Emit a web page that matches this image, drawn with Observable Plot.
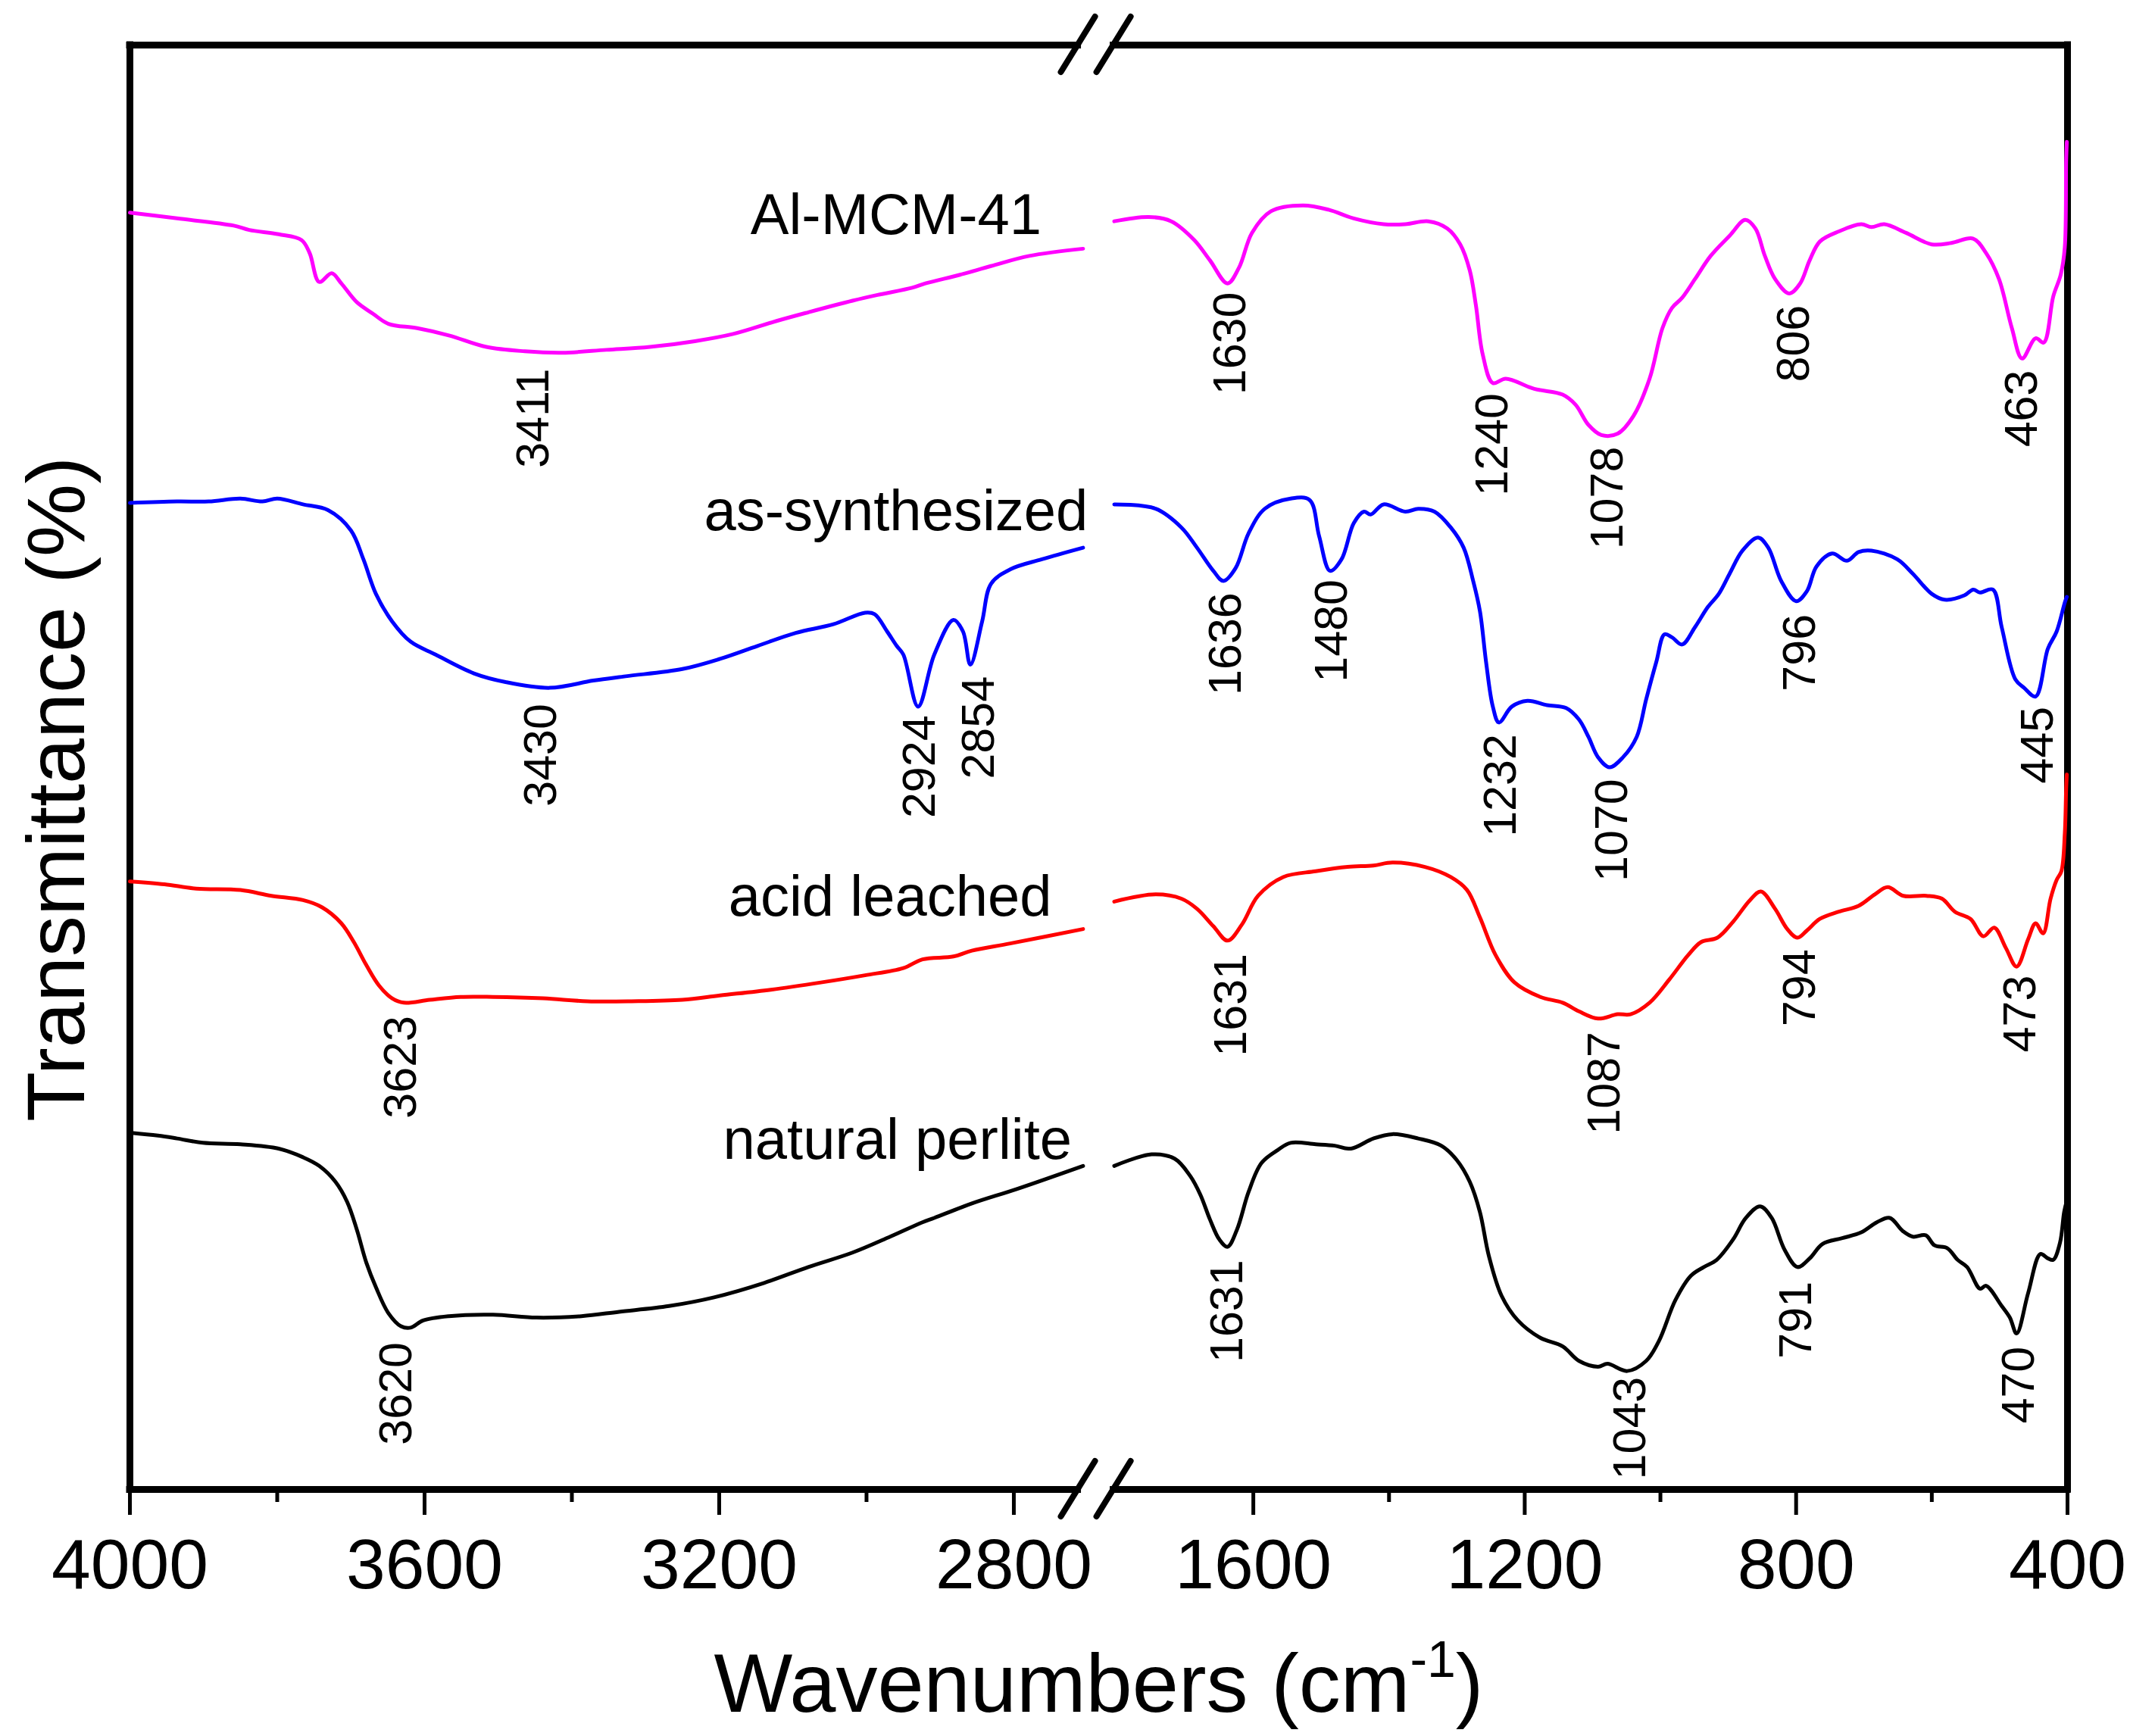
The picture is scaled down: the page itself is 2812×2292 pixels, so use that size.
<!DOCTYPE html>
<html><head><meta charset="utf-8">
<script src="https://cdn.jsdelivr.net/npm/d3@7"></script>
<script src="https://cdn.jsdelivr.net/npm/@observablehq/plot@0.6"></script>
<style>html,body{margin:0;padding:0;background:#fff}</style>
</head><body><div id="chart"></div>
<script>
// ---- data (wavenumber cm-1, relative transmittance, arbitrary 0-100 units) ----
const alLeft = [[4000,88.4],[3936,88.0],[3859,87.5],[3838,87.2],[3798,86.9],[3767,86.5],[3756,85.6],[3743,83.6],[3726,84.2],[3713,83.5],[3692,82.2],[3670,81.4],[3649,80.7],[3610,80.4],[3567,79.9],[3516,79.1],[3464,78.8],[3413,78.7],[3353,78.9],[3294,79.1],[3233,79.5],[3181,80.0],[3122,80.9],[3079,81.5],[3019,82.3],[2985,82.7],[2938,83.2],[2920,83.5],[2873,84.1],[2831,84.7],[2779,85.4],[2706,85.9]];
const alRight = [[1805,87.8],[1754,88.1],[1721,87.8],[1687,86.5],[1664,85.1],[1638,83.5],[1621,84.6],[1602,87.0],[1574,88.5],[1527,88.9],[1489,88.6],[1452,88.0],[1408,87.6],[1376,87.6],[1342,87.8],[1314,87.3],[1295,86.2],[1281,84.4],[1272,82.0],[1262,78.6],[1247,76.6],[1228,76.9],[1186,76.2],[1144,75.8],[1125,75.1],[1106,73.7],[1087,73.0],[1063,73.1],[1040,74.3],[1016,76.9],[997,80.4],[983,81.8],[968,82.5],[949,83.8],[926,85.4],[898,86.8],[875,87.9],[860,87.3],[846,85.4],[831,83.8],[810,82.8],[794,83.5],[780,85.1],[765,86.4],[737,87.1],[704,87.6],[689,87.4],[670,87.6],[638,87.0],[600,86.2],[571,86.3],[539,86.6],[520,85.6],[501,83.8],[482,80.4],[467,78.3],[447,79.7],[435,79.4],[421,82.6],[410,84.1],[404,86.0],[402,92.0],[401,93.3]];
const asLeft = [[4000,68.3],[3936,68.4],[3893,68.4],[3850,68.6],[3820,68.4],[3800,68.6],[3765,68.2],[3731,67.8],[3700,66.4],[3683,64.4],[3666,62.0],[3644,60.1],[3619,58.7],[3585,57.8],[3533,56.5],[3490,55.9],[3430,55.5],[3371,56.0],[3327,56.3],[3250,56.8],[3199,57.5],[3148,58.4],[3096,59.3],[3045,59.9],[3002,60.7],[2989,60.6],[2972,59.4],[2959,58.4],[2950,57.8],[2930,54.2],[2908,57.8],[2882,60.2],[2869,59.4],[2859,57.1],[2843,60.1],[2831,62.7],[2805,63.7],[2762,64.4],[2706,65.2]];
const asRight = [[1805,68.2],[1744,67.9],[1706,66.6],[1683,65.2],[1659,63.6],[1644,62.9],[1626,63.8],[1607,66.2],[1583,67.9],[1545,68.6],[1517,68.5],[1503,66.0],[1487,63.6],[1470,64.4],[1452,66.9],[1437,67.7],[1427,67.5],[1408,68.2],[1376,67.7],[1357,67.9],[1333,67.7],[1309,66.6],[1290,65.2],[1276,62.9],[1266,60.8],[1257,57.3],[1247,54.2],[1238,53.1],[1219,54.2],[1196,54.6],[1167,54.3],[1139,54.1],[1120,53.3],[1106,52.1],[1092,50.7],[1075,50.0],[1055,50.7],[1035,52.1],[1021,54.7],[1006,57.3],[994,59.2],[983,59.0],[968,58.5],[949,59.7],[930,61.1],[914,62.0],[898,63.4],[879,65.0],[856,65.9],[841,65.2],[822,62.9],[800,61.5],[784,62.2],[770,63.9],[747,64.8],[725,64.3],[708,64.9],[689,65.0],[651,64.4],[628,63.4],[600,62.0],[581,61.6],[552,61.9],[539,62.3],[529,62.1],[510,62.3],[497,59.7],[477,56.1],[464,55.5],[447,54.9],[429,58.2],[416,59.4],[404,61.4],[401,61.8]];
const acidLeft = [[4000,42.1],[3953,41.9],[3910,41.6],[3850,41.5],[3808,41.1],[3765,40.8],[3739,40.3],[3713,39.2],[3696,37.9],[3679,36.3],[3662,34.9],[3644,34.0],[3628,33.7],[3593,33.9],[3551,34.1],[3507,34.1],[3439,34.0],[3379,33.8],[3319,33.8],[3250,33.9],[3199,34.2],[3130,34.6],[3062,35.1],[3002,35.6],[2950,36.1],[2924,36.7],[2882,36.9],[2857,37.3],[2805,37.8],[2706,38.8]];
const acidRight = [[1805,40.7],[1744,41.2],[1706,40.9],[1683,40.2],[1659,39.0],[1638,38.0],[1617,39.1],[1593,41.1],[1556,42.4],[1508,42.8],[1461,43.1],[1423,43.2],[1395,43.4],[1347,43.1],[1309,42.4],[1285,41.5],[1266,39.6],[1243,37.0],[1215,35.1],[1177,34.1],[1144,33.7],[1120,33.1],[1092,32.6],[1063,32.9],[1044,32.9],[1016,33.7],[987,35.3],[959,37.0],[940,37.9],[916,38.2],[893,39.3],[868,40.8],[852,41.4],[831,40.2],[813,38.8],[798,38.2],[784,38.7],[765,39.5],[737,40.0],[708,40.4],[684,41.2],[665,41.7],[642,41.1],[608,41.1],[585,40.9],[566,40.0],[543,39.5],[524,38.3],[508,38.9],[491,37.5],[475,36.2],[458,38.1],[447,39.2],[436,38.5],[425,40.9],[416,42.2],[409,42.8],[404,45.4],[402,48.5],[401,49.5]];
const natLeft = [[4000,24.7],[3962,24.5],[3936,24.3],[3901,24.0],[3850,23.9],[3798,23.6],[3765,23.0],[3743,22.4],[3721,21.3],[3705,19.9],[3692,18.0],[3679,15.7],[3666,14.0],[3649,12.2],[3632,11.3],[3619,11.2],[3602,11.7],[3567,12.0],[3507,12.1],[3448,11.9],[3387,12.0],[3336,12.3],[3268,12.7],[3207,13.3],[3139,14.3],[3079,15.4],[3019,16.4],[2968,17.5],[2924,18.5],[2908,18.8],[2857,19.8],[2796,20.8],[2706,22.4]];
const natRight = [[1805,22.4],[1750,23.2],[1716,22.9],[1693,21.7],[1678,20.4],[1664,18.7],[1650,17.3],[1638,16.8],[1624,18.0],[1607,20.6],[1588,22.6],[1564,23.5],[1545,24.0],[1508,23.9],[1480,23.8],[1456,23.6],[1423,24.3],[1395,24.6],[1357,24.3],[1323,23.8],[1300,22.8],[1281,21.3],[1266,19.2],[1253,16.2],[1234,13.4],[1210,11.7],[1177,10.5],[1144,9.9],[1120,8.9],[1092,8.5],[1078,8.7],[1049,8.2],[1021,8.9],[1002,10.3],[978,13.1],[955,14.8],[936,15.4],[917,15.9],[893,17.3],[874,18.8],[853,19.6],[836,18.8],[817,16.6],[798,15.4],[780,16.0],[761,17.0],[732,17.4],[704,17.8],[681,18.5],[662,18.8],[643,17.9],[628,17.5],[609,17.6],[596,16.9],[577,16.7],[562,15.9],[548,15.4],[529,13.9],[520,14.1],[497,12.7],[485,11.9],[475,10.8],[458,13.6],[440,16.3],[429,16.0],[421,15.9],[411,17.1],[405,19.2],[401,20.0]];

const seriesNames = ["Al-MCM-41", "as-synthesized", "acid leached", "natural perlite"];
const seriesColors = ["#ff00ff", "#0000ff", "#ff0000", "#000000"];
const seriesLabelW = [2960, 2960, 2968, 2958];
const seriesLabelT = [86.9, 66.4, 39.7, 22.9];

const peakText = ["3411","1630","1240","1078","806","463",
                  "3430","2924","2854","1636","1480","1232","1070","796","445",
                  "3623","1631","1087","794","473",
                  "3620","1631","1043","791","470"];
const peakW = [3452,1634,1247,1078,803,467,
               3442,2927,2847,1640,1484,1235,1071,794,444,
               3632,1633,1082,794,469,
               3638,1638,1044,800,472];
const peakT = [77.6,82.9,75.9,72.2,82.0,77.5,
               54.4,53.6,56.3,62.1,63.0,52.3,49.2,60.6,54.2,
               32.8,37.1,31.7,37.4,35.6,
               10.2,15.9,7.8,14.4,9.9];

const majorTicks = [4000, 3600, 3200, 2800, 1600, 1200, 800, 400];
const minorTicks = [3800, 3400, 3000, 1400, 1000, 600];
const xDomain = [4000, 2700, 1806, 400];          // broken axis: two segments
const xRange = [171, 1435.2, 1469.6, 2729];
const breakW = [2713, 1806];
const frameT = [0, 100];
const xLabel = "Wavenumbers (cm-1)";
const yLabel = "Transmittance (%)";

const segs = [[alLeft, alRight], [asLeft, asRight], [acidLeft, acidRight], [natLeft, natRight]];
const lineMarks = [];
segs.forEach((pair, i) => pair.forEach((pts) => {
  lineMarks.push(Plot.line(pts, {x: d => d[0], y: d => d[1], stroke: seriesColors[i], strokeWidth: 5, curve: "catmull-rom", strokeLinejoin: "round"}));
}));

const peaks = peakText.map((t, i) => ({t, w: peakW[i], v: peakT[i]}));
const labels = seriesNames.map((n, i) => ({n, w: seriesLabelW[i], v: seriesLabelT[i]}));

const NS = "http://www.w3.org/2000/svg";
function breakMarks(index, scales) {
  const g = document.createElementNS(NS, "g");
  for (const t of frameT) for (const w of breakW) {
    const cx = scales.x(w), cy = scales.y(t);
    const l = document.createElementNS(NS, "line");
    l.setAttribute("x1", cx - 22); l.setAttribute("y1", cy + 36);
    l.setAttribute("x2", cx + 23); l.setAttribute("y2", cy - 37);
    l.setAttribute("stroke", "#000"); l.setAttribute("stroke-width", 8);
    l.setAttribute("stroke-linecap", "round");
    g.appendChild(l);
  }
  return g;
}

const plot = Plot.plot({
  width: 2812, height: 2292,
  marginTop: 59, marginBottom: 326, marginLeft: 171, marginRight: 83,
  style: {fontFamily: "'Liberation Sans', Arial, Helvetica, sans-serif", background: "#ffffff", color: "#000000"},
  x: {type: "linear", domain: xDomain, range: xRange, label: null},
  y: {domain: [0, 100], axis: null},
  marks: [
    Plot.ruleY(frameT, {y: d => d, x1: 4000, x2: breakW[0], stroke: "#000", strokeWidth: 9, strokeLinecap: "square"}),
    Plot.ruleY(frameT, {y: d => d, x1: breakW[1], x2: 400, stroke: "#000", strokeWidth: 9, strokeLinecap: "square"}),
    Plot.ruleX([4000, 400], {x: d => d, y1: 0, y2: 100, stroke: "#000", strokeWidth: 9, strokeLinecap: "square"}),
    breakMarks,
    Plot.axisX({ticks: majorTicks, tickSize: 34, tickPadding: 30, tickFormat: d => String(d), fontSize: 93, strokeWidth: 5, label: null}),
    Plot.axisX({ticks: minorTicks, tickSize: 17, tickFormat: () => "", strokeWidth: 5, label: null}),
    ...lineMarks,
    Plot.text(labels, {x: "w", y: "v", text: "n", fontSize: 76, textAnchor: "middle", lineAnchor: "bottom", fill: "#000"}),
    Plot.text(peaks, {x: "w", y: "v", text: "t", fontSize: 61, rotate: -90, textAnchor: "end", lineAnchor: "middle", fill: "#000"}),
    Plot.text([xLabel], {text: d => d, frameAnchor: "bottom", textAnchor: "middle", lineAnchor: "bottom", dy: 293, fontSize: 110, fill: "#000"}),
    Plot.text([yLabel], {text: d => d, frameAnchor: "left", textAnchor: "middle", lineAnchor: "bottom", rotate: -90, dx: -61, dy: 29, fontSize: 108, fill: "#000"})
  ]
});

// superscript for cm-1
for (const t of plot.querySelectorAll("text")) {
  if (t.textContent === xLabel) {
    t.textContent = "";
    const a = document.createElementNS(NS, "tspan"); a.textContent = "Wavenumbers (cm"; t.appendChild(a);
    const b = document.createElementNS(NS, "tspan"); b.textContent = "-1"; b.setAttribute("font-size", "68"); b.setAttribute("dy", "-46"); t.appendChild(b);
    const c = document.createElementNS(NS, "tspan"); c.textContent = ")"; c.setAttribute("dy", "46"); t.appendChild(c);
  }
}
document.getElementById("chart").appendChild(plot);
</script>
</body></html>
